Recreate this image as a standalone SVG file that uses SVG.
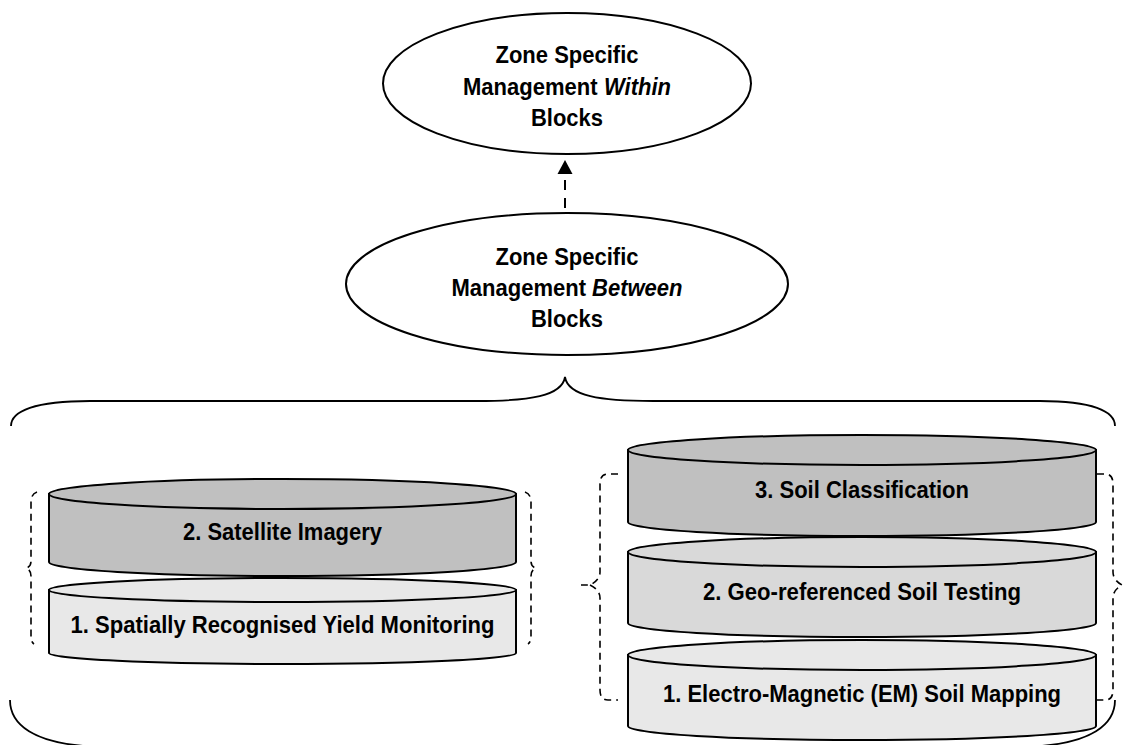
<svg xmlns="http://www.w3.org/2000/svg" width="1125" height="745" viewBox="0 0 1125 745">
<defs>
<style>
.ol{fill:#ffffff;stroke:#000;stroke-width:2}
.c1{fill:#c0c0c0;stroke:#000;stroke-width:2}
.c2{fill:#d9d9d9;stroke:#000;stroke-width:2}
.c3{fill:#e8e8e8;stroke:#000;stroke-width:2}
.brace{fill:none;stroke:#000;stroke-width:1.8}
.dbrace{fill:none;stroke:#000;stroke-width:1.6;stroke-dasharray:7 5}
.t{font-family:"Liberation Sans",Arial,sans-serif;font-weight:bold;font-size:23.5px;fill:#000;text-anchor:middle}
.s{text-anchor:start}
.i{font-style:italic}
</style>
</defs>
<rect width="1125" height="745" fill="#fff"/>

<g id="connectors">
<line x1="565" y1="208" x2="565" y2="174" stroke="#000" stroke-width="2" stroke-dasharray="10 8"/>
<path d="M557.5,174 L565,160 L572.5,174 Z" fill="#000"/>
<path class="brace" d="M11,426 C11,411 35,401 90,401 L477,401 C530,401 562,396 565,377 C568,396 600,401 653,401 L1040,401 C1092,401 1115,411 1115,426"/>
<path class="brace" d="M10,700 C10,726 36,742 84,746"/>
<path class="brace" d="M1115,700 C1115,726 1089,742 1041,746"/>
<path class="dbrace" d="M37,492 Q31,494 31,502 L31,561 Q31,567 26,568 Q31,570 31,576 L31,636 Q31,642 34,644"/>
<path class="dbrace" d="M525,492 Q531,494 531,502 L531,561 Q531,567 536,568 Q531,570 531,576 L531,636 Q531,642 528,644"/>
<path class="dbrace" d="M618,474 L608,474 Q600,474 600,484 L600,572 Q600,580 590,585 L581,585 M590,585 Q600,590 600,598 L600,690 Q600,700 608,700 L618,700"/>
<path class="dbrace" d="M1097,474 L1105,474 Q1113,474 1113,484 L1113,572 Q1113,580 1122,585 Q1113,590 1113,598 L1113,690 Q1113,700 1105,700 L1097,700"/>
</g>

<g id="node-within">
<ellipse class="ol" cx="567" cy="83.5" rx="184" ry="70.5"/>
<text class="t" x="567" y="63" textLength="143" lengthAdjust="spacingAndGlyphs">Zone Specific</text>
<text class="t s" x="463" y="94.5" textLength="134.5" lengthAdjust="spacingAndGlyphs">Management</text>
<text class="t s i" x="604" y="94.5" textLength="67" lengthAdjust="spacingAndGlyphs">Within</text>
<text class="t" x="567" y="126" textLength="72" lengthAdjust="spacingAndGlyphs">Blocks</text>
</g>

<g id="node-between">
<ellipse class="ol" cx="567" cy="284" rx="221" ry="71"/>
<text class="t" x="567" y="265" textLength="143" lengthAdjust="spacingAndGlyphs">Zone Specific</text>
<text class="t s" x="451.5" y="296" textLength="134.5" lengthAdjust="spacingAndGlyphs">Management</text>
<text class="t s i" x="592" y="296" textLength="90.5" lengthAdjust="spacingAndGlyphs">Between</text>
<text class="t" x="567" y="327" textLength="72" lengthAdjust="spacingAndGlyphs">Blocks</text>
</g>

<g id="node-satellite">
<path class="c1" d="M49,494 L49,562 A233.5,14 0 0 0 516,562 L516,494 Z"/>
<ellipse class="c1" cx="282.5" cy="494" rx="233.5" ry="15"/>
<text class="t" x="282.5" y="540" textLength="199" lengthAdjust="spacingAndGlyphs">2. Satellite Imagery</text>
</g>

<g id="node-yield">
<path class="c3" d="M49,590 L49,653 A233.5,11 0 0 0 516,653 L516,590 Z"/>
<ellipse class="c3" cx="282.5" cy="590" rx="233.5" ry="12"/>
<text class="t" x="282.5" y="633" textLength="424" lengthAdjust="spacingAndGlyphs">1. Spatially Recognised Yield Monitoring</text>
</g>

<g id="node-soilclass">
<path class="c1" d="M628,450 L628,522 A234,14 0 0 0 1096,522 L1096,450 Z"/>
<ellipse class="c1" cx="862" cy="450" rx="234" ry="15"/>
<text class="t" x="862" y="498" textLength="214" lengthAdjust="spacingAndGlyphs">3. Soil Classification</text>
</g>

<g id="node-geo">
<path class="c2" d="M628,552 L628,623 A234,14 0 0 0 1096,623 L1096,552 Z"/>
<ellipse class="c2" cx="862" cy="552" rx="234" ry="15"/>
<text class="t" x="862" y="600" textLength="318" lengthAdjust="spacingAndGlyphs">2. Geo-referenced Soil Testing</text>
</g>

<g id="node-em">
<path class="c3" d="M628,655 L628,726 A234,14 0 0 0 1096,726 L1096,655 Z"/>
<ellipse class="c3" cx="862" cy="655" rx="234" ry="15"/>
<text class="t" x="862" y="702" textLength="398" lengthAdjust="spacingAndGlyphs">1. Electro-Magnetic (EM) Soil Mapping</text>
</g>
</svg>
